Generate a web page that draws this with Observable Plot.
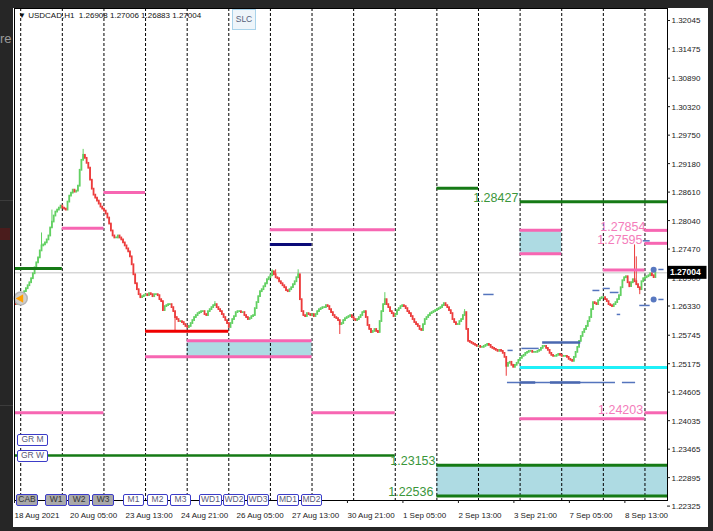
<!DOCTYPE html>
<html><head><meta charset="utf-8">
<script src="https://cdn.jsdelivr.net/npm/d3@7"></script>
<script src="https://cdn.jsdelivr.net/npm/@observablehq/plot@0.6"></script>
<style>
body{margin:0;background:#262626;}
#wrap{position:relative;width:713px;height:531px;overflow:hidden;background:#262626;font-family:"Liberation Sans",Arial,sans-serif;}
#win{position:absolute;left:13px;top:8px;width:695px;height:519px;background:#fff;}
#chart{position:absolute;left:0;top:0;width:713px;height:531px;z-index:2;}
.btn{position:absolute;z-index:3;box-sizing:border-box;height:12px;border:1.5px solid #3c3cc8;border-radius:2px;font-size:8.5px;line-height:9px;text-align:center;color:#5a5a78;background:#fff;}
.btn.g{background:#a9a9a9;color:#333;}
#hdr{position:absolute;z-index:3;left:18px;top:11px;font-size:8px;color:#111;white-space:pre;}
#slc{position:absolute;z-index:3;left:232px;top:9px;width:24px;height:21px;box-sizing:border-box;border:1.5px solid #a9d3ea;background:#eef5fa;font-size:8.5px;color:#55607a;text-align:center;line-height:18px;}
#leftstrip{position:absolute;left:0px;top:31px;font-size:13px;color:#9a9a9a;}
</style></head>
<body>
<div id="wrap">
  <div id="leftstrip">re</div>
  <div style="position:absolute;left:0;top:200px;width:13px;height:1px;background:#3c3c3c"></div>
  <div style="position:absolute;left:0;top:228px;width:10px;height:12px;background:#4a1c1c"></div>
  <div style="position:absolute;left:0;top:405px;width:13px;height:1px;background:#3c3c3c"></div>
  <div id="win"></div>
  <div id="chart"></div>
  <div id="hdr">▼ USDCAD,H1  1.26908 1.27006 1.26883 1.27004</div>
  <div id="slc">SLC</div>
  <div class="btn" style="left:17px;top:434px;width:31px;">GR M</div>
  <div class="btn" style="left:17px;top:450px;width:31px;">GR W</div>
  <div class="btn g" style="left:16px;top:494px;width:22px;">CAB</div>
  <div class="btn g" style="left:45px;top:494px;width:22px;">W1</div>
  <div class="btn g" style="left:68px;top:494px;width:22px;">W2</div>
  <div class="btn g" style="left:92px;top:494px;width:22px;">W3</div>
  <div class="btn" style="left:123px;top:494px;width:21px;">M1</div>
  <div class="btn" style="left:147px;top:494px;width:21px;">M2</div>
  <div class="btn" style="left:170px;top:494px;width:21px;">M3</div>
  <div class="btn" style="left:199px;top:494px;width:23px;">WD1</div>
  <div class="btn" style="left:223px;top:494px;width:22px;">WD2</div>
  <div class="btn" style="left:247px;top:494px;width:22px;">WD3</div>
  <div class="btn" style="left:277px;top:494px;width:22px;">MD1</div>
  <div class="btn" style="left:301px;top:494px;width:21px;">MD2</div>
</div>
<script>
// ---- data ----
const closes = [
1.26368,1.26428,1.26487,1.26527,1.26567,1.26627,1.26686,1.26746,1.26806,1.26886,
1.26985,1.27105,1.27204,1.27304,1.27443,1.27543,1.27563,1.27603,1.27663,1.27742,
1.27902,1.28021,1.28141,1.28220,1.28260,1.28300,1.28340,1.28300,1.28280,1.28260,
1.28420,1.28539,1.28599,1.28659,1.28619,1.28639,1.28738,1.29057,1.29256,1.29356,
1.29296,1.29196,1.29097,1.28858,1.28679,1.28559,1.28499,1.28440,1.28380,1.28320,
1.28280,1.28240,1.28181,1.28101,1.27981,1.27842,1.27742,1.27702,1.27702,1.27742,
1.27702,1.27663,1.27603,1.27543,1.27483,1.27424,1.27324,1.27165,1.26965,1.26786,
1.26667,1.26567,1.26507,1.26527,1.26547,1.26567,1.26547,1.26587,1.26567,1.26527,
1.26567,1.26567,1.26547,1.26467,1.26428,1.26248,1.26328,1.26348,1.26368,1.26368,
1.26308,1.26228,1.26109,1.26069,1.26029,1.26029,1.26009,1.25969,1.25930,1.25910,
1.25930,1.25989,1.26049,1.26109,1.26149,1.26188,1.26208,1.26228,1.26228,1.26169,
1.26149,1.26228,1.26268,1.26308,1.26348,1.26368,1.26308,1.26268,1.26228,1.26169,
1.26109,1.26049,1.25989,1.25910,1.25989,1.26069,1.26129,1.26208,1.26228,1.26228,
1.26208,1.26208,1.26149,1.26109,1.26069,1.26089,1.26129,1.26149,1.26288,1.26408,
1.26527,1.26627,1.26667,1.26726,1.26786,1.26866,1.26906,1.26946,1.27025,1.26965,
1.26906,1.26886,1.26826,1.26786,1.26746,1.26706,1.26647,1.26627,1.26667,1.26706,
1.26766,1.26826,1.26906,1.26965,1.26467,1.26228,1.26149,1.26129,1.26188,1.26169,
1.26149,1.26169,1.26129,1.26169,1.26228,1.26268,1.26288,1.26308,1.26308,1.26348,
1.26328,1.26268,1.26208,1.26149,1.26109,1.26089,1.26049,1.25969,1.25989,1.26049,
1.26089,1.26109,1.26129,1.26149,1.26109,1.26069,1.26049,1.26069,1.26109,1.26149,
1.26208,1.26228,1.26109,1.25950,1.25870,1.25810,1.25830,1.25870,1.25830,1.25810,
1.26029,1.26228,1.26368,1.26467,1.26368,1.26308,1.26228,1.26188,1.26129,1.26169,
1.26248,1.26288,1.26328,1.26348,1.26328,1.26288,1.26228,1.26188,1.26129,1.26069,
1.26009,1.25969,1.25930,1.25870,1.25850,1.25969,1.26069,1.26109,1.26149,1.26188,
1.26208,1.26228,1.26248,1.26268,1.26288,1.26308,1.26348,1.26388,1.26348,1.26308,
1.26248,1.26188,1.26069,1.26009,1.25969,1.25969,1.26029,1.26069,1.26149,1.26208,
1.25870,1.25631,1.25611,1.25591,1.25571,1.25551,1.25531,1.25531,1.25511,1.25511,
1.25531,1.25551,1.25571,1.25551,1.25511,1.25491,1.25471,1.25452,1.25432,1.25452,
1.25432,1.25392,1.25312,1.25133,1.25193,1.25213,1.25153,1.25113,1.25153,1.25193,
1.25252,1.25292,1.25332,1.25352,1.25392,1.25412,1.25432,1.25432,1.25412,1.25412,
1.25412,1.25432,1.25452,1.25491,1.25531,1.25531,1.25491,1.25452,1.25392,1.25352,
1.25332,1.25332,1.25352,1.25372,1.25352,1.25332,1.25332,1.25332,1.25312,1.25272,
1.25252,1.25232,1.25312,1.25412,1.25511,1.25631,1.25730,1.25810,1.25870,1.25930,
1.26029,1.26109,1.26268,1.26408,1.26388,1.26368,1.26447,1.26487,1.26507,1.26507,
1.26467,1.26428,1.26368,1.26348,1.26328,1.26368,1.26408,1.26467,1.26547,1.26706,
1.26846,1.26906,1.26926,1.26806,1.26726,1.26806,1.26866,1.26826,1.26766,1.26706,
1.26667,1.26826,1.26886,1.26906,1.26926,1.26946,1.26985,1.26946,1.26908,1.27004
];
const firstOpen = 1.26527;
const highSpikes = [[15,1.27802],[21,1.28260],[39,1.29475],[115,1.26428],[148,1.27065],[150,1.27065],[163,1.27065],[213,1.26607],[259,1.26268],[357,1.27563],[358,1.27324]];
const lowSpikes = [[92,1.25830],[187,1.25770],[283,1.24934],[360,1.26567]];
const lastPrice = 1.27004;

// bar index of each day's 00:00 (period separators)
const dayStarts = [3,27,51,75,99,123,147,171,195,219,243,267,291,315,339,363];
const xTickBars = [0,32,64,96,128,160,192,224,256,288,320,352];
const xTickLabels = ["18 Aug 2021","20 Aug 05:00","23 Aug 13:00","24 Aug 21:00","26 Aug 05:00","27 Aug 13:00","30 Aug 21:00","1 Sep 05:00","2 Sep 13:00","3 Sep 21:00","7 Sep 05:00","8 Sep 13:00"];
const yTicks = [1.32045,1.31475,1.30890,1.30320,1.29750,1.29180,1.28610,1.28040,1.27470,1.26900,1.26330,1.25745,1.25175,1.24605,1.24035,1.23465,1.22895,1.22325];

// level segments: [startBar, endBar, price]
const greenLevels = [[-1,27,1.27091],[243,267,1.28698],[291,377,1.28427],[243,377,1.23153],[243,377,1.22536]];
const grwLevel = [[-1,219,1.23348]];
const pinkLevels = [[27,51,1.27898],[51,75,1.28612],[75,171,1.25324],[99,171,1.25644],[147,219,1.27866],[-1,51,1.24203],[171,219,1.24203],[291,315,1.27854],[291,315,1.27385],[363,377,1.27854],[363,377,1.27595],[339,363,1.27061],[291,363,1.24083],[363,377,1.24203]];
const redLevels = [[75,123,1.25836]];
const navyLevels = [[147,171,1.27571]];
const cyanLevels = [[291,377,1.25109]];
const zones = [[99,171,1.25644,1.25324],[291,315,1.27854,1.27385],[243,377,1.23153,1.22536]];
const blueDashes = [[270,276,1.26571],[333,337,1.26651],[339,343,1.26691],[343,348,1.26611],[347,349,1.26171],[360,366,1.26351],[292,302,1.25491],[284,287,1.25451],[371,374,1.27071],[371,374,1.26471],[362,366,1.27645],[283.7,346,1.24809],[350,357.6,1.24809]];
const blueThick = [[304,326,1.25611],[291,300,1.24809],[308.5,326,1.24809]];
const blueDots = [[368,1.27068],[368,1.26468]];
const greenLabels = [[290,1.28427],[242.2,1.23153],[241,1.22536]];
const pinkLabels = [[363.3,1.27854],[361.6,1.27595],[362,1.24203]];
const startMarker = [[3,1.26491]];

// ---- build ----
const bars = closes.map((c,i)=>{const o=i?closes[i-1]:firstOpen;return {i,o,c,h:Math.max(o,c),l:Math.min(o,c)};});
highSpikes.forEach(([i,v])=>{bars[i].h=Math.max(bars[i].h,v);});
lowSpikes.forEach(([i,v])=>{bars[i].l=Math.min(bars[i].l,v);});
const up = bars.filter(b=>b.c>=b.o), dn = bars.filter(b=>b.c<b.o);
const UP="#62d062", DN="#ec3c3c";
const FONT = "'Liberation Sans', Arial, sans-serif";

const chart = Plot.plot({
  width:713,height:531,marginLeft:14,marginRight:46,marginTop:8,marginBottom:31,
  style:{background:"transparent",fontFamily:FONT,fontSize:"8px",color:"#1a1a1a",overflow:"visible"},
  x:{type:"linear",domain:[-0.58,376.0]},
  y:{domain:[1.22447,1.32295],axis:null},
  marks:[
    Plot.rect(zones,{x1:d=>d[0],x2:d=>d[1],y1:d=>d[2],y2:d=>d[3],fill:"#aedbe3",clip:true}),
    Plot.ruleX(dayStarts,{stroke:"#000",strokeWidth:1,strokeDasharray:"3,2"}),
    Plot.ruleY([lastPrice],{stroke:"#c4c4c4",strokeWidth:1}),
    Plot.ruleX(up,{x:"i",y1:"l",y2:"h",stroke:UP,strokeWidth:1}),
    Plot.ruleX(up,{x:"i",y1:"o",y2:"c",stroke:UP,strokeWidth:1.8,strokeLinecap:"square"}),
    Plot.ruleX(dn,{x:"i",y1:"l",y2:"h",stroke:DN,strokeWidth:1}),
    Plot.ruleX(dn,{x:"i",y1:"o",y2:"c",stroke:DN,strokeWidth:1.8,strokeLinecap:"square"}),
    Plot.ruleY(greenLevels,{y:d=>d[2],x1:d=>d[0],x2:d=>d[1],stroke:"#157a15",strokeWidth:3,clip:true}),
    Plot.ruleY(grwLevel,{y:d=>d[2],x1:d=>d[0],x2:d=>d[1],stroke:"#157a15",strokeWidth:2.5,clip:true}),
    Plot.ruleY(pinkLevels,{y:d=>d[2],x1:d=>d[0],x2:d=>d[1],stroke:"#f766b2",strokeWidth:3,clip:true}),
    Plot.ruleY(redLevels,{y:d=>d[2],x1:d=>d[0],x2:d=>d[1],stroke:"#f00000",strokeWidth:3}),
    Plot.ruleY(navyLevels,{y:d=>d[2],x1:d=>d[0],x2:d=>d[1],stroke:"#0a0a78",strokeWidth:3}),
    Plot.ruleY(cyanLevels,{y:d=>d[2],x1:d=>d[0],x2:d=>d[1],stroke:"#1ff0f8",strokeWidth:3,clip:true}),
    Plot.ruleY(blueDashes,{y:d=>d[2],x1:d=>d[0],x2:d=>d[1],stroke:"#5474bd",strokeWidth:1.5,clip:true}),
    Plot.ruleY(blueThick,{y:d=>d[2],x1:d=>d[0],x2:d=>d[1],stroke:"#4a68b0",strokeWidth:2.5}),
    Plot.dot(blueDots,{x:d=>d[0],y:d=>d[1],r:3,fill:"#5878c0"}),
    Plot.dot(startMarker,{x:d=>d[0],y:d=>d[1],r:6.5,fill:"#cfcfcf",stroke:"#b5b5b5"}),
    Plot.dot(startMarker,{x:d=>d[0],y:d=>d[1],r:3.2,symbol:"triangle",rotate:-90,fill:"#ffa000"}),
    Plot.text(greenLabels,{x:d=>d[0],y:d=>d[1],text:d=>d[1].toFixed(5),textAnchor:"end",fill:"#3a963a",fontSize:12.5,dy:-4}),
    Plot.text(pinkLabels,{x:d=>d[0],y:d=>d[1],text:d=>d[1].toFixed(5),textAnchor:"end",fill:"#f47cba",fontSize:12.5,dy:-3}),
    Plot.frame({stroke:"#000",strokeWidth:1}),
    Plot.axisX(xTickBars,{anchor:"bottom",tickSize:3,tickPadding:9,tickFormat:d=>xTickLabels[xTickBars.indexOf(d)],textAnchor:"start",dx:-1,fontSize:8,fill:"#1a1a1a",label:null})
  ]
});
// price scale on the right, from Plot's y scale definition (unclamped, so the lowest tick below the frame is kept)
const ys = chart.scale("y");
const yLin = d3.scaleLinear(ys.domain, ys.range);
const sel = d3.select(chart);
const xr = 713 - 46;
const g = sel.append("g").attr("font-family",FONT).attr("font-size",8).attr("fill","#1a1a1a").attr("text-anchor","start");
yTicks.forEach(v=>{
  const y = yLin(v);
  g.append("line").attr("x1",xr).attr("x2",xr+3).attr("y1",y).attr("y2",y).attr("stroke","#1a1a1a");
  g.append("text").attr("x",xr+4.5).attr("y",y+3).text(v.toFixed(5));
});
// current price box
const py = yLin(lastPrice);
sel.append("rect").attr("x",xr+0.5).attr("y",py-6.5).attr("width",39).attr("height",13).attr("fill","#000");
sel.append("text").attr("x",xr+3).attr("y",py+3).attr("text-anchor","start").attr("fill","#fff").attr("font-size",8.5).attr("font-weight","bold")
  .attr("font-family",FONT).text(lastPrice.toFixed(5));
document.getElementById("chart").appendChild(chart);
</script>
</body></html>
